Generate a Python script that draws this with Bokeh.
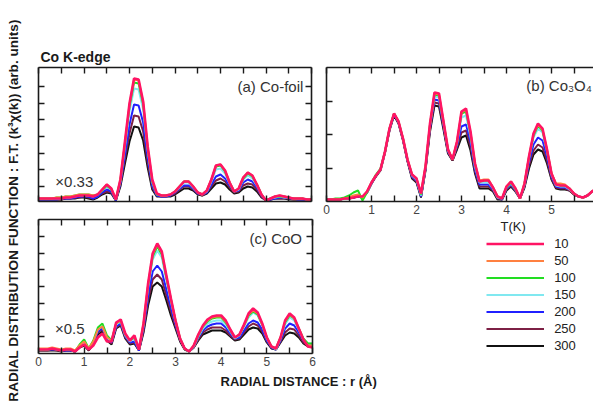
import math
from bokeh.plotting import figure
from bokeh.models import (Label, Legend, LegendItem, LinearAxis, FixedTicker, Range1d, Grid,
                          Title, CustomJSTickFormatter)
from bokeh.layouts import row, column
from bokeh.embed import file_html
from bokeh.resources import INLINE

# ---------------- data ----------------
r_grid = [i / 10 for i in range(61)]          # radial distance r (Å), 0.1 Å sampling
temps = ["10", "50", "100", "150", "200", "250", "300"]
colors = ["#ff1464", "#ff8040", "#22dd22", "#80e8f0", "#2020ff", "#7d2045", "#111111"]

# (a) Co-foil  (x0.33)
a10 = [3,3,3,3,3,3,4,4,5,6, 6,6,5,7,12,17,13,2,22,60, 98,123,122,100,55,22,8,6,6,7, 10,15,20,20,15,9,7,11,22,36, 37,31,19,10,13,24,29,26,17,7, 1,3,5,6,5,4,3,3,3,2, 2]
a50 = [3,3,3,3,4,4,5,5,6,7, 7,7,6,7,12,17,13,2,22,59, 97,122,121,99,54,21,8,6,6,7, 10,15,20,20,15,9,7,11,22,36, 37,31,19,10,13,24,29,26,17,7, 1,3,5,6,5,4,3,3,3,2, 2]
a100 = [3,3,3,3,4,4,5,5,6,7, 7,7,6,7,11,16,12,2,21,58, 95,119,118,97,53,20,7,6,6,7, 10,15,20,20,15,9,7,11,22,35, 36,30,19,10,13,23,28,25,17,7, 1,3,5,5,5,4,3,3,3,2, 2]
a150 = [3,3,3,3,3,3,4,4,5,6, 6,6,5,7,11,15,12,2,20,55, 90,113,112,92,51,19,7,6,6,7, 10,14,19,19,14,9,7,10,20,32, 33,28,18,10,12,22,26,23,16,7, 1,3,4,5,4,4,3,3,3,2, 2]
a200 = [2,2,2,2,2,3,3,3,4,5, 5,5,3,5,9,12,10,1,18,47, 77,97,96,79,44,16,6,5,5,6, 9,13,16,16,13,8,7,9,17,25, 27,23,16,10,11,19,22,20,14,6, 1,2,3,4,4,3,3,2,2,2, 2]
a250 = [2,2,2,2,2,2,3,3,4,4, 5,4,3,5,8,10,9,1,17,43, 68,86,85,70,39,14,6,5,5,6, 8,12,15,15,12,8,6,9,15,21, 23,20,14,9,10,16,18,17,12,5, 1,2,3,3,3,3,2,2,2,2, 2]
a300 = [2,2,2,2,2,2,3,3,3,4, 4,3,2,4,7,9,8,1,15,38, 60,75,74,61,34,12,5,5,5,5, 7,10,13,13,11,7,6,8,13,18, 19,17,12,8,9,13,15,14,10,4, 1,2,3,3,3,2,2,2,2,2, 2]

# (b) Co3O4
b10 = [2,2,2,2,3,3,4,5,5,10, 19,26,32,50,73,88,80,63,42,27, 23,8,35,78,109,108,80,52,42,60, 90,93,70,38,20,21,21,14,5,3, 15,20,13,3,18,45,68,78,73,52, 28,17,16,16,13,8,5,4,6,10, 13]
b50 = [2,2,2,2,3,4,6,7,4,10, 19,26,32,50,73,88,80,63,42,27, 23,8,35,77,108,107,80,52,42,60, 89,92,69,38,21,22,22,14,5,3, 15,20,13,3,18,45,67,77,72,52, 28,18,18,17,13,8,5,4,6,10, 13]
b100 = [2,2,3,3,4,6,9,11,1,9, 19,27,33,50,73,88,80,63,42,27, 23,7,35,77,107,106,79,52,42,59, 88,90,68,37,20,21,21,14,5,3, 14,19,12,3,18,44,66,76,71,51, 28,17,16,16,13,8,5,4,6,10, 13]
b150 = [2,2,2,2,3,3,5,6,4,9, 19,26,32,50,73,88,80,63,42,26, 22,6,34,76,105,104,78,51,42,58, 84,86,65,35,19,19,19,13,4,3, 14,18,12,3,17,43,64,73,69,50, 27,16,15,15,12,8,5,4,6,10, 13]
b200 = [2,2,2,2,3,3,4,5,4,9, 18,26,32,50,72,87,79,62,41,25, 21,5,33,74,102,101,76,50,42,56, 75,77,60,32,17,17,17,12,4,2, 13,17,11,3,16,39,57,64,61,45, 25,15,14,14,12,8,5,4,6,10, 13]
b250 = [2,2,2,2,3,3,4,5,4,9, 18,26,32,49,72,87,79,62,41,24, 20,5,32,72,99,98,74,49,41,54, 69,71,55,30,15,15,15,11,3,2, 12,16,10,3,15,36,51,57,54,41, 23,14,13,13,11,7,5,4,6,10, 13]
b300 = [2,2,2,2,3,3,4,5,4,9, 18,25,31,49,71,86,78,61,40,23, 19,4,31,70,96,95,72,48,41,52, 64,66,51,28,13,13,13,10,2,2, 11,15,10,3,14,33,47,52,50,38, 22,13,12,12,11,7,5,4,6,10, 13]

# (c) CoO  (x0.5)
c10 = [4,4,4,5,4,3,4,4,2,6, 9,4,8,16,20,12,12,31,34,20, 13,18,4,30,70,100,110,102,78,55, 33,15,5,2,8,19,28,34,37,38, 38,33,24,16,19,29,40,45,41,30, 16,7,5,16,33,40,36,25,14,7, 6]
c50 = [5,5,5,6,5,4,5,5,3,8, 12,5,12,24,27,16,13,30,33,19, 13,17,4,30,69,99,109,101,77,54, 33,15,5,2,8,19,27,33,36,37, 37,32,24,16,19,28,39,43,40,29, 16,7,5,16,32,39,35,25,14,8, 8]
c100 = [4,4,4,5,4,3,4,4,2,9, 14,5,13,26,30,18,13,30,33,19, 13,16,4,29,68,97,107,99,76,54, 33,15,5,2,8,18,27,32,35,36, 36,31,23,16,19,28,38,42,39,29, 16,7,5,16,31,38,35,25,15,10, 10]
c150 = [4,4,4,5,4,3,4,4,2,8, 12,4,12,24,27,16,12,29,32,18, 12,15,4,28,66,94,103,96,73,52, 32,15,5,2,7,17,25,30,32,33, 33,29,22,15,18,27,36,41,38,28, 15,7,4,15,29,36,33,24,14,10, 10]
c200 = [4,4,4,4,4,3,3,3,2,7, 10,4,11,22,25,15,11,27,30,17, 11,12,3,25,58,82,88,82,64,46, 29,14,5,2,7,16,23,27,29,30, 30,26,20,15,16,23,30,33,31,24, 13,6,4,13,25,30,28,21,13,8, 8]
c250 = [3,3,3,4,3,3,3,3,2,6, 9,4,10,21,24,14,10,26,29,16, 10,11,3,23,53,74,79,74,58,42, 27,13,5,2,6,14,21,24,26,26, 26,23,18,14,15,21,27,30,28,22, 12,6,4,12,21,25,24,18,11,8, 8]
c300 = [3,3,3,3,3,2,3,3,2,6, 8,3,9,19,22,13,9,25,28,15, 9,10,3,21,48,67,71,67,53,38, 25,12,4,2,6,13,19,21,23,23, 23,21,17,13,14,19,24,26,25,20, 11,5,4,11,18,21,20,16,10,7, 7]

x_major = [0, 1, 2, 3, 4, 5, 6]
x_minor = [0.5, 1.5, 2.5, 3.5, 4.5, 5.5]
ya_ticks = [15, 31.7, 48.4, 65.1, 81.8, 98.5, 115.2]
yb_ticks = [33.5, 67, 100.5]
yc_ticks = [17, 33.7, 50.4, 67.1, 83.8, 100.5, 117.2]

FONT = "Liberation Sans"
INK = "#1a1a1a"


def panel(fw, fh, xr, yr, left, right, top, bottom):
    p = figure(frame_width=fw, frame_height=fh, x_range=Range1d(*xr), y_range=Range1d(*yr),
               x_axis_location=None, y_axis_location=None, toolbar_location=None,
               output_backend="svg", min_border_left=left, min_border_right=right,
               min_border_top=top, min_border_bottom=bottom)
    p.outline_line_color = None
    p.background_fill_color = "white"
    p.border_fill_color = "white"
    for g in p.select(type=Grid):
        g.visible = False
    return p


def add_axis(p, side, ticks, minor=None, labels=False):
    ax = LinearAxis(ticker=FixedTicker(ticks=ticks, minor_ticks=minor or []))
    ax.axis_line_color = INK
    ax.axis_line_width = 1.6
    ax.major_tick_in = 6
    ax.major_tick_out = 0
    ax.major_tick_line_color = INK
    ax.major_tick_line_width = 1.4
    ax.minor_tick_in = 6
    ax.minor_tick_out = 0
    ax.minor_tick_line_color = INK
    ax.minor_tick_line_width = 1.4
    if labels:
        ax.major_label_text_font = FONT
        ax.major_label_text_font_size = "12px"
        ax.major_label_text_color = "#444444"
        ax.major_label_standoff = 3
    else:
        ax.formatter = CustomJSTickFormatter(code="return ''")
        ax.major_label_text_font_size = "1px"
        ax.major_label_text_color = None
        ax.major_label_standoff = 0
    p.add_layout(ax, side)
    return ax


def curves(p, series):
    rs = []
    for t, col, ys in reversed(list(zip(temps, colors, series))):
        rs.append(p.line(r_grid, ys, line_color=col, line_width=2.6 if t == "10" else 2.0))
    return list(reversed(rs))


def txt(p, x, y, s, size="15px", bold=False, align="left", color="#333333", angle=0.0):
    lab = Label(x=x, y=y, text=s, text_font=FONT, text_font_size=size,
                text_font_style="bold" if bold else "normal", text_align=align,
                text_baseline="middle", text_color=color, angle=angle)
    p.add_layout(lab)
    return lab


# ---------------- y-axis label strip ----------------
ylab = figure(width=30, height=414, x_range=Range1d(0, 30), y_range=Range1d(0, 414),
              x_axis_location=None, y_axis_location=None, toolbar_location=None,
              output_backend="svg", min_border=0)
ylab.outline_line_color = None
for g in ylab.select(type=Grid):
    g.visible = False
txt(ylab, 13, 204, "RADIAL DISTRIBUTION FUNCTION : F.T. (k³χ(k)) (arb. units)",
    size="13.6px", bold=True, align="center", color="#1a1a1a", angle=math.pi / 2)

# ---------------- (a) Co-foil ----------------
pa = panel(273, 134, (0, 6), (0, 134), 8, 7, 66, 18)
add_axis(pa, "below", x_major, x_minor)
add_axis(pa, "above", x_major, x_minor)
add_axis(pa, "left", ya_ticks)
add_axis(pa, "right", ya_ticks)
curves(pa, [a10, a50, a100, a150, a200, a250, a300])
pa.title.text = "Co K-edge"
pa.title.align = "left"
pa.title.offset = 2
pa.title.standoff = 6
pa.title.text_font = FONT
pa.title.text_font_size = "14px"
pa.title.text_font_style = "bold"
pa.title.text_color = "#1a1a1a"
txt(pa, 5.82, 115, "(a) Co-foil", align="right")
txt(pa, 0.37, 20, "×0.33")

# ---------------- (b) Co3O4 ----------------
pb = panel(267, 134, (0, 267 / 45), (0, 134), 8, 0, 67, 17)
add_axis(pb, "below", x_major, x_minor, labels=True)
add_axis(pb, "above", x_major, x_minor)
add_axis(pb, "left", yb_ticks)
curves(pb, [b10, b50, b100, b150, b200, b250, b300])
txt(pb, 4.44, 116, "(b) Co₃O₄")

# ---------------- (c) CoO ----------------
pc = panel(274, 134, (0, 6), (0, 134), 8, 281, 1, 61)
add_axis(pc, "below", x_major, x_minor, labels=True)
add_axis(pc, "above", x_major, x_minor)
add_axis(pc, "left", yc_ticks)
add_axis(pc, "right", yc_ticks)
rc = curves(pc, [c10, c50, c100, c150, c200, c250, c300])
txt(pc, 5.77, 115, "(c) CoO", align="right")
txt(pc, 0.36, 25, "×0.5")
pc.add_layout(Title(text="RADIAL DISTANCE : r (Å)", align="left", offset=182, standoff=6,
                    text_font=FONT, text_font_size="13px", text_font_style="bold",
                    text_color="#1a1a1a"), "below")

legend = Legend(items=[LegendItem(label=t, renderers=[r]) for t, r in zip(temps, rc)],
                location=(-47, 0), orientation="vertical")
legend.title = "\u00a0\u00a0\u00a0\u00a0T(K)"
legend.title_text_font = FONT
legend.title_text_font_size = "13px"
legend.title_text_font_style = "normal"
legend.title_text_color = "#222222"
legend.title_standoff = 2
legend.border_line_color = None
legend.background_fill_alpha = 0
legend.padding = 0
legend.margin = 0
legend.spacing = 2
legend.glyph_width = 58
legend.glyph_height = 15
legend.label_height = 15
legend.label_standoff = 10
legend.label_text_font = FONT
legend.label_text_font_size = "13px"
legend.label_text_color = "#222222"
legend.label_text_baseline = "middle"
pc.add_layout(legend, "right")

layout = row(ylab, column(row(pa, pb), pc))

open("out.html", "w").write(file_html(layout, INLINE))
